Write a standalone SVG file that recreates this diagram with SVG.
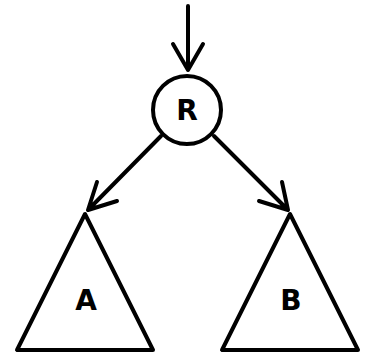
<svg xmlns="http://www.w3.org/2000/svg" width="370" height="356" viewBox="0 0 370 356">
<style>
.s{fill:none;stroke:#000;stroke-width:4;stroke-linecap:round;stroke-linejoin:round}
.t{font-family:"DejaVu Sans",sans-serif;font-weight:bold;font-size:28px;text-anchor:middle;fill:#000}
</style>
<rect width="370" height="356" fill="#fff"/>
<g id="connectors">
<path class="s" d="M188 6 V70 M173 44 L188 70 L203 44"/>
<path class="s" d="M161 136 L88 210 M97 182 L88 210 L117 201"/>
<path class="s" d="M214 136 L288 210 M282 182 L288 210 L259 201"/>
</g>
<g id="R">
<circle class="s" cx="187" cy="110" r="34"/>
<text class="t" x="187" y="120">R</text>
</g>
<g id="A">
<path class="s" d="M85 214 L17 350 H153 Z"/>
<text class="t" x="86" y="310">A</text>
</g>
<g id="B">
<path class="s" d="M290 214 L222 350 H358 Z"/>
<text class="t" x="291" y="310">B</text>
</g>
</svg>
